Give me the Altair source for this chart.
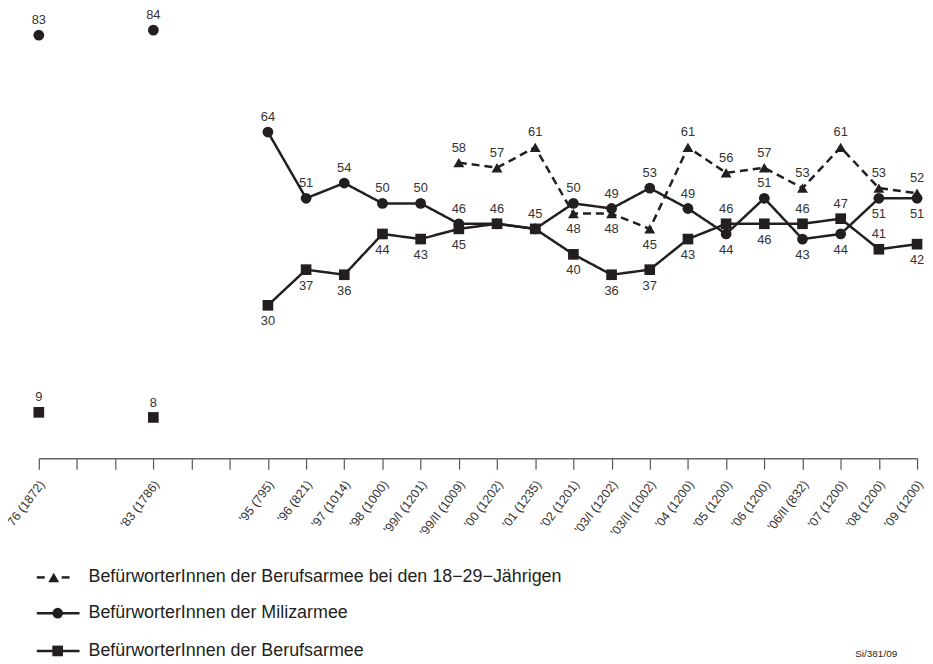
import json
import altair as alt
import pandas as pd

# x-axis slots (survey year and sample size); empty strings are unlabeled ticks
slots = ["'76 (1872)", "", "", "'83 (1786)", "", "", "'95 (795)", "'96 (821)",
         "'97 (1014)", "'98 (1000)", "'99/I (1201)", "'99/II (1009)", "'00 (1202)",
         "'01 (1235)", "'02 (1201)", "'03/I (1202)", "'03/II (1002)", "'04 (1200)",
         "'05 (1200)", "'06 (1200)", "'06/II (832)", "'07 (1200)", "'08 (1200)",
         "'09 (1200)"]

series_names = [
    "BefürworterInnen der Berufsarmee bei den 18−29−Jährigen",
    "BefürworterInnen der Milizarmee",
    "BefürworterInnen der Berufsarmee",
]

main_idx = [0, 3, 6, 7, 8, 9, 10, 11, 12, 13, 14, 15, 16, 17, 18, 19, 20, 21, 22, 23]
miliz = [83, 84, 64, 51, 54, 50, 50, 46, 46, 45, 50, 49, 53, 49, 44, 51, 43, 44, 51, 51]
berufs = [9, 8, 30, 37, 36, 44, 43, 45, 46, 45, 40, 36, 37, 43, 46, 46, 46, 47, 41, 42]
jung_idx = [11, 12, 13, 14, 15, 16, 17, 18, 19, 20, 21, 22, 23]
jung = [58, 57, 61, 48, 48, 45, 61, 56, 57, 53, 61, 53, 52]

# label placement: a = above, b = below, "" = no label (shared with other series)
miliz_pos = ["a"] * 14 + ["b", "a", "b", "b", "b", "b"]
berufs_pos = ["a", "a", "b", "b", "b", "b", "b", "b", "", "", "b", "b", "b", "b",
              "a", "b", "a", "a", "a", "b"]
jung_pos = ["a", "a", "a", "b", "b", "b", "a", "a", "a", "a", "a", "a", "a"]

source_note = "Si/381/09"

rows = []
for i, v, p in zip(jung_idx, jung, jung_pos):
    rows.append({"series": series_names[0], "idx": i, "value": v, "pos": p})
for i, v, p in zip(main_idx, miliz, miliz_pos):
    rows.append({"series": series_names[1], "idx": i, "value": v, "pos": p})
for i, v, p in zip(main_idx, berufs, berufs_pos):
    rows.append({"series": series_names[2], "idx": i, "value": v, "pos": p})
df = pd.DataFrame(rows)

INK = "#231f20"
FONT = "Liberation Sans"
W, H = 884, 436

label_expr = json.dumps(slots) + "[datum.value]"

x_enc = alt.X("idx:Q", scale=alt.Scale(domain=[0, 23], nice=False, zero=False),
              axis=alt.Axis(values=list(range(24)), labelExpr=label_expr,
                            labelAngle=-53, labelAlign="right", labelBaseline="top",
                            labelOverlap=False, labelBound=False, labelFlush=False,
                            labelOffset=-2,
                            tickSize=11, labelPadding=9, grid=False, title=None,
                            domainColor="#666666", domainWidth=1.5,
                            tickColor="#555555", tickWidth=1.2,
                            labelFont=FONT, labelFontSize=12.5, labelColor="#333333"))
y_enc = alt.Y("value:Q", scale=alt.Scale(domain=[0, 85], nice=False), axis=None)

dash_scale = alt.Scale(domain=series_names, range=[[8, 5], [1, 0], [1, 0]])
shape_scale = alt.Scale(domain=series_names, range=["triangle-up", "circle", "square"])
size_scale = alt.Scale(domain=series_names, range=[120, 115, 110])

base = alt.Chart(df)

lines = base.mark_line(color=INK, strokeWidth=2.5).encode(
    x=x_enc, y=y_enc, detail="series:N",
    strokeDash=alt.StrokeDash("series:N", scale=dash_scale, legend=None),
).transform_filter("datum.idx >= 6")

points = base.mark_point(filled=True, color=INK, opacity=1).encode(
    x=x_enc, y=y_enc,
    shape=alt.Shape("series:N", scale=shape_scale, legend=None),
    size=alt.Size("series:N", scale=size_scale, legend=None),
)

lab_above = base.mark_text(dy=-15, font=FONT, fontSize=13, color="#333333").encode(
    x=x_enc, y=y_enc, text="value:Q").transform_filter("datum.pos == 'a'")
lab_below = base.mark_text(dy=16, font=FONT, fontSize=13, color="#333333").encode(
    x=x_enc, y=y_enc, text="value:Q").transform_filter("datum.pos == 'b'")

# manual legend below the axis
one = pd.DataFrame({"k": [0]})
leg_y = [556, 592, 630]
legend_layers = []
# row 1: dashed with triangle
legend_layers.append(alt.Chart(one).mark_rule(color=INK, strokeWidth=2.5).encode(
    x=alt.value(-2), x2=alt.value(6), y=alt.value(leg_y[0])))
legend_layers.append(alt.Chart(one).mark_rule(color=INK, strokeWidth=2.5).encode(
    x=alt.value(23), x2=alt.value(31), y=alt.value(leg_y[0])))
legend_layers.append(alt.Chart(one).mark_point(filled=True, color=INK, opacity=1, size=120).encode(
    x=alt.value(15), y=alt.value(leg_y[0]), shape=alt.value("triangle-up")))
for r, shp in [(1, "circle"), (2, "square")]:
    legend_layers.append(alt.Chart(one).mark_rule(color=INK, strokeWidth=2.5).encode(
        x=alt.value(-2), x2=alt.value(41), y=alt.value(leg_y[r])))
    legend_layers.append(alt.Chart(one).mark_point(filled=True, color=INK, opacity=1, size=115).encode(
        x=alt.value(19), y=alt.value(leg_y[r]), shape=alt.value(shp)))
for r in range(3):
    legend_layers.append(alt.Chart(one).mark_text(
        align="left", baseline="middle", font=FONT, fontSize=18, color=INK).encode(
        x=alt.value(50), y=alt.value(leg_y[r]), text=alt.value(series_names[r])))
legend_layers.append(alt.Chart(one).mark_text(
    align="right", baseline="middle", font=FONT, fontSize=10, color=INK).encode(
    x=alt.value(864), y=alt.value(633), text=alt.value(source_note)))

chart = alt.layer(lines, points, lab_above, lab_below, *legend_layers).properties(
    width=W, height=H,
    background="white",
    autosize=alt.AutoSizeParams(type="none"),
    padding={"left": 31, "top": 15, "right": 8, "bottom": 205},
).configure_view(stroke=None)

chart.save("out.html", embed_options={"renderer": "svg", "actions": False})
